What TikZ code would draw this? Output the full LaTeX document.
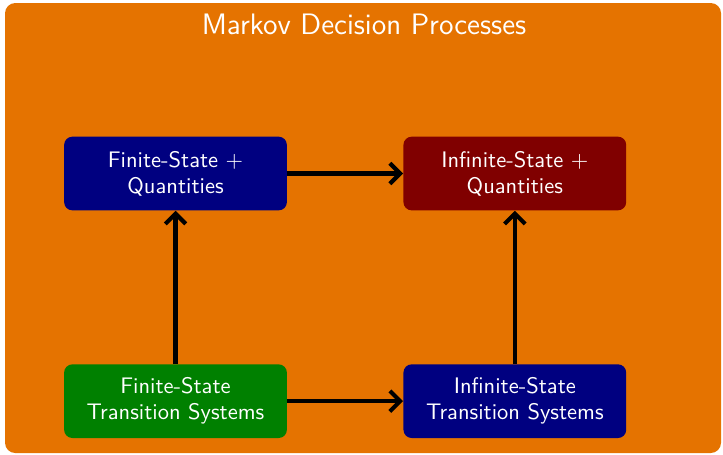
\documentclass[tikz,border=0pt]{standalone}
\usepackage{tikz}
\usetikzlibrary{arrows.meta, positioning}
\renewcommand{\familydefault}{\sfdefault}

\begin{document}
\begin{tikzpicture}[
      x=0.0171cm, y=-0.0171cm,
      box/.style={rounded corners=4pt, minimum width=3.81cm, minimum height=1.26cm, align=center, text=white, font=\sffamily\fontsize{10.95}{12.6}\selectfont},
      arr/.style={-{Straight Barb[length=5pt, width=10pt]}, line width=2pt},
      node distance=2.62cm and 1.98cm
    ]
      \useasboundingbox (0,0) rectangle (723,454);
      \fill[orange!90!black, rounded corners=5pt] (5,3) rectangle (721,453);
      \node[text=white, font=\sffamily\fontsize{14.4}{18}\selectfont, anchor=base] (title) at (364,34) {Markov Decision Processes};

      \node[box, fill=blue!50!black] (fq) at (175.5,173.5) {Finite-State +\\Quantities};
      \node[box, fill=red!50!black, right=of fq] (iq) {Infinite-State +\\Quantities};
      \node[box, fill=green!50!black, below=of fq] (fts) {Finite-State\\Transition Systems};
      \node[box, fill=blue!50!black, below=of iq] (its) {Infinite-State\\Transition Systems};

      \draw[arr] (fq) -- (iq);
      \draw[arr] (fts) -- (its);
      \draw[arr] (fts) -- (fq);
      \draw[arr] (its) -- (iq);
    \end{tikzpicture}
\end{document}
